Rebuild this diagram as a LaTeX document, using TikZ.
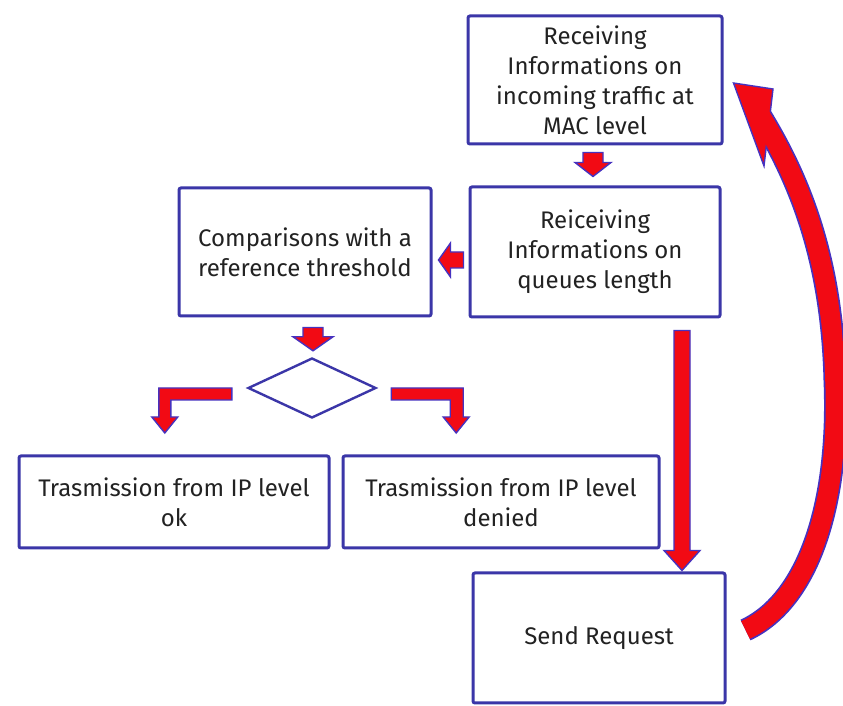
\documentclass[tikz,border=0pt]{standalone}
\usepackage{fontspec}
\setmainfont{Fira Sans}
\usetikzlibrary{calc,shapes.geometric}

\definecolor{frameblue}{HTML}{3B36A8}
\definecolor{arrowred}{HTML}{F20A14}
\definecolor{arrowedge}{HTML}{4632C0}
\definecolor{inkgray}{HTML}{222222}

\tikzset{
  stagebox/.style={draw=frameblue, line width=1.5pt, fill=white, rounded corners=1pt,
    text=inkgray, align=center, inner sep=0pt,
    font=\fontsize{12}{15}\selectfont},
  decision/.style={diamond, draw=frameblue, line width=1.2pt, fill=white, inner sep=0pt},
  blockarrow/.style={fill=arrowred, draw=arrowedge, line width=0.7pt, line join=miter},
  curveedge/.style={draw=arrowedge, line width=11.5pt, line cap=butt},
  curvecore/.style={draw=arrowred, line width=9.8pt, line cap=butt},
}

% straight block arrow: #1 start, #2 tip, #3 half shaft width, #4 half head width, #5 head length
\newcommand\flowarrow[5]{%
  \coordinate (fa-base) at ($(#2)!#5!(#1)$);
  \path[blockarrow]
    ($(#1)!#3!-90:(#2)$) --
    ($(fa-base)!#3!90:(#1)$) --
    ($(fa-base)!#4!90:(#1)$) --
    (#2) --
    ($(fa-base)!#4!-90:(#1)$) --
    ($(fa-base)!#3!-90:(#1)$) --
    ($(#1)!#3!90:(#2)$) -- cycle;
}

\begin{document}
\begin{tikzpicture}[x=0.5pt, y=-0.5pt]
  \useasboundingbox[fill=white] (0,0) rectangle (843,706);

  % process stages
  \node[stagebox, minimum width=127pt, minimum height=64pt] (r1) at (595,80)
    {Receiving\\Informations on\\incoming traffic at\\MAC level};
  \node[stagebox, minimum width=125pt, minimum height=65pt] (r2) at (595,252)
    {Reiceiving\\Informations on\\queues length};
  \node[stagebox, minimum width=126pt, minimum height=64pt] (r3) at (305,252)
    {Comparisons with a\\reference threshold};
  \node[stagebox, minimum width=155pt, minimum height=46pt] (r4) at (174,502)
    {Trasmission from IP level\\ok};
  \node[stagebox, minimum width=158pt, minimum height=46pt] (r5) at (501,502)
    {Trasmission from IP level\\denied};
  \node[stagebox, minimum width=126pt, minimum height=65pt] (r6) at (599,638)
    {Send Request};

  % decision
  \node[decision, minimum width=64pt, minimum height=30pt] (dia) at (312,388) {};

  % straight connectors
  \coordinate (a1s) at ($(r1.south)+(-2,7)$);
  \coordinate (a1t) at ($(r2.north)+(-2,-9)$);
  \flowarrow{a1s}{a1t}{5pt}{9pt}{7pt}

  \coordinate (a2s) at ($(r2.west)+(-5,8)$);
  \coordinate (a2t) at ($(r3.east)+(6,8)$);
  \flowarrow{a2s}{a2t}{4pt}{8.5pt}{6pt}

  \coordinate (a3s) at ($(r3.south)+(8,10)$);
  \coordinate (a3t) at ($(dia.north)+(1,-6)$);
  \flowarrow{a3s}{a3t}{5pt}{10pt}{7pt}

  \coordinate (a4s) at ($(r2.south)+(87,12)$);
  \coordinate (a4t) at ($(r6.north)+(83,-1)$);
  \flowarrow{a4s}{a4t}{4pt}{9pt}{10pt}

  % elbow connectors from the decision
  \coordinate (lfrom) at ($(dia.west)+(-15,0)$);
  \path[blockarrow] (lfrom) -- ++(-73,0) -- ++(0,29) -- ++(-7,0) -- ++(13,16)
    -- ++(13,-16) -- ++(-7,0) -- ++(0,-17) -- ++(61,0) -- cycle;
  \coordinate (rfrom) at ($(dia.east)+(14,0)$);
  \path[blockarrow] (rfrom) -- ++(72,0) -- ++(0,29) -- ++(6,0) -- ++(-13,16)
    -- ++(-13,-16) -- ++(7,0) -- ++(0,-17) -- ++(-59,0) -- cycle;

  % curved feedback connector
  \coordinate (ctail) at ($(r6.east)+(19,-8)$);
  \coordinate (cend) at (760,115);
  \coordinate (ctip) at ($(r1.east)+(10,3)$);
  \draw[curveedge] (ctail) .. controls (810,600) and (840,500) .. (835,380)
    .. controls (832,260) and (800,180) .. (cend);
  \path[blockarrow] (ctip) -- (773,89) -- (764,166) -- cycle;
  \draw[curvecore] (ctail) .. controls (810,600) and (840,500) .. (835,380)
    .. controls (832,260) and (800,180) .. (cend);
\end{tikzpicture}
\end{document}
